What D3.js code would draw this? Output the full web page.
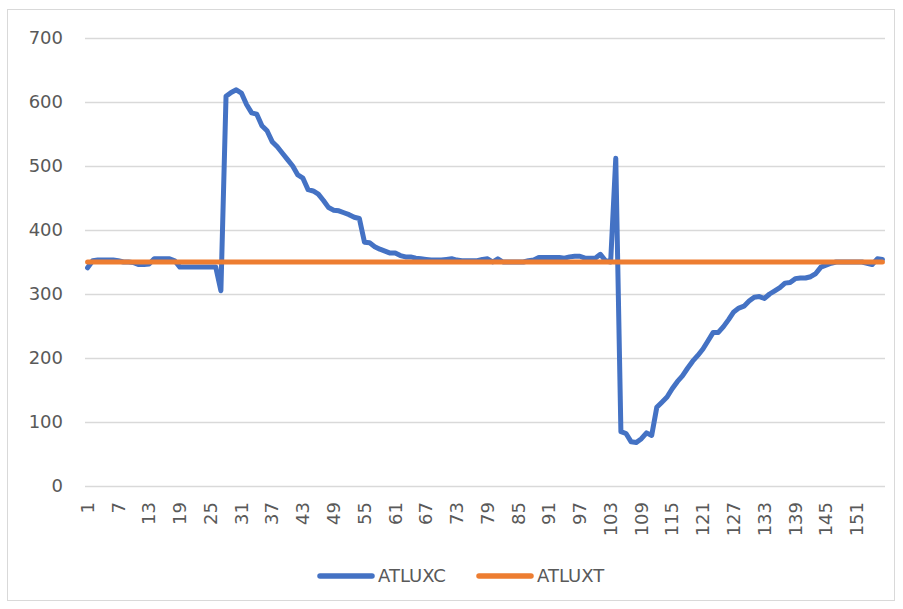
<!DOCTYPE html>
<html>
<head>
<meta charset="utf-8">
<script src="https://cdn.jsdelivr.net/npm/d3@7"></script>
<style>
  body { margin: 0; background: #fff; }
  svg { display: block; }
</style>
</head>
<body>
<div id="chart"></div>
<script>
// ATLUXC readings, one per sample (1..156)
const atluxc = [
  341, 352, 353, 353, 353, 353, 352, 350, 350, 349,
  346, 346, 347, 355, 355, 355, 355, 352, 342, 342,
  342, 342, 342, 342, 342, 342, 305, 609, 615, 619,
  614, 596, 583, 581, 563, 555, 538, 530, 520, 510,
  500, 486, 481, 463, 461, 456, 446, 435, 431, 430,
  427, 424, 420, 418, 381, 380, 374, 370, 367, 364,
  364, 360, 358, 358, 356, 355, 354, 353, 353, 353,
  354, 355, 353, 352, 352, 352, 352, 354, 355, 350,
  355, 350, 350, 350, 350, 350, 352, 353, 357, 357,
  357, 357, 357, 356, 358, 359, 359, 356, 356, 356,
  362, 352, 350, 512, 85, 82, 69, 68, 74, 83,
  79, 123, 131, 139, 152, 163, 172, 184, 195, 204,
  214, 227, 240, 240, 249, 260, 272, 278, 281, 289,
  295, 296, 293, 300, 305, 310, 317, 318, 324, 325,
  325, 327, 332, 342, 345, 348, 350, 350, 350, 350,
  350, 350, 348, 346, 355, 354
];
// ATLUXT target, flat
const atluxt = atluxc.map(() => 350);
const categories = atluxc.map((_, i) => i + 1);
const yTicks = [0, 100, 200, 300, 400, 500, 600, 700];
const xTickLabels = categories.filter((c) => (c - 1) % 6 === 0);

const seriesNames = ['ATLUXC', 'ATLUXT'];
const seriesColors = ['#4472C4', '#ED7D31'];

const width = 903, height = 609;
const margin = { left: 85, right: 18, top: 38, bottom: 123 };
const font = "'DejaVu Sans', sans-serif";
const fontSize = 18;

const svg = d3.select('#chart').append('svg')
  .attr('width', width).attr('height', height);

svg.append('rect')
  .attr('x', 7.5).attr('y', 9.5).attr('width', 887).attr('height', 591)
  .attr('fill', '#fff').attr('stroke', '#d9d9d9').attr('stroke-width', 1);

const x = d3.scaleBand().domain(categories).range([margin.left, width - margin.right]).padding(0);
const y = d3.scaleLinear().domain([0, 700]).range([height - margin.bottom, margin.top]);
const cx = (c) => x(c) + x.bandwidth() / 2;

// gridlines + y labels
const yAxis = svg.append('g')
  .attr('transform', `translate(${margin.left},0)`)
  .call(d3.axisLeft(y).tickValues(yTicks).tickSize(-(width - margin.left - margin.right)).tickPadding(22));
yAxis.select('.domain').remove();
yAxis.selectAll('.tick line').attr('stroke', '#d9d9d9').attr('stroke-width', 1.6);
yAxis.selectAll('.tick text')
  .attr('fill', '#595959').attr('font-size', fontSize).attr('font-family', font);

// x labels, rotated
svg.append('g').selectAll('text').data(xTickLabels).join('text')
  .attr('transform', (d) => `translate(${cx(d)},${y(0) + 16}) rotate(-90)`)
  .attr('text-anchor', 'end').attr('dy', '0.35em')
  .attr('fill', '#595959').attr('font-size', fontSize).attr('font-family', font)
  .text((d) => d);

const line = d3.line().x((d, i) => cx(categories[i])).y((d) => y(d));

[atluxc, atluxt].forEach((vals, k) => {
  svg.append('path').datum(vals)
    .attr('d', line)
    .attr('fill', 'none')
    .attr('stroke', seriesColors[k])
    .attr('stroke-width', 5)
    .attr('stroke-linejoin', 'round')
    .attr('stroke-linecap', 'round');
});

// legend
const legend = svg.append('g').attr('transform', 'translate(320,576)');
const legendX = [0, 159];
seriesNames.forEach((name, k) => {
  const g = legend.append('g').attr('transform', `translate(${legendX[k]},0)`);
  g.append('line').attr('x1', 0).attr('x2', 52).attr('y1', 0).attr('y2', 0)
    .attr('stroke', seriesColors[k]).attr('stroke-width', 5.5).attr('stroke-linecap', 'round');
  g.append('text').attr('x', 58).attr('y', 0).attr('dy', '0.35em')
    .attr('fill', '#595959').attr('font-size', fontSize).attr('font-family', font)
    .text(name);
});
</script>
</body>
</html>
